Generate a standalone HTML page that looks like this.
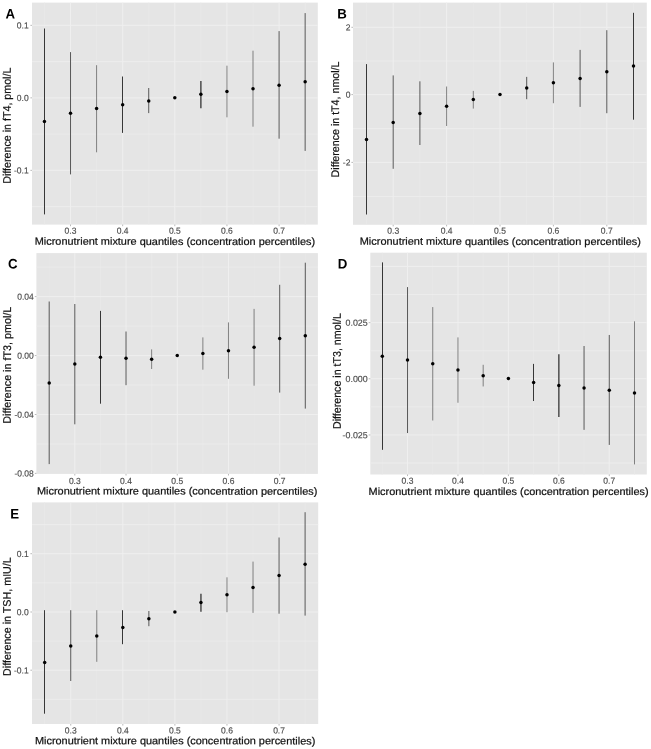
<!DOCTYPE html>
<html lang="en"><head><meta charset="utf-8"><title>Figure: micronutrient mixture quantiles and thyroid hormones</title>
<style>html,body{margin:0;padding:0;background:#fff}svg{display:block}text{font-family:"Liberation Sans", Arial, Helvetica, sans-serif;text-rendering:geometricPrecision}</style>
</head><body>
<svg width="651" height="749" viewBox="0 0 651 749">
<rect x="0" y="0" width="651" height="749" fill="#ffffff"/>
<g>
<rect x="32" y="2.6" width="285.8" height="222" fill="#E5E5E5"/>
<line x1="44.45" y1="2.6" x2="44.45" y2="224.6" stroke="#EAEAEA" stroke-width="0.7"/>
<line x1="96.59" y1="2.6" x2="96.59" y2="224.6" stroke="#EAEAEA" stroke-width="0.7"/>
<line x1="148.73" y1="2.6" x2="148.73" y2="224.6" stroke="#EAEAEA" stroke-width="0.7"/>
<line x1="200.87" y1="2.6" x2="200.87" y2="224.6" stroke="#EAEAEA" stroke-width="0.7"/>
<line x1="253.01" y1="2.6" x2="253.01" y2="224.6" stroke="#EAEAEA" stroke-width="0.7"/>
<line x1="305.15" y1="2.6" x2="305.15" y2="224.6" stroke="#EAEAEA" stroke-width="0.7"/>
<line x1="32" y1="61.6" x2="317.8" y2="61.6" stroke="#EDEDED" stroke-width="0.8"/>
<line x1="32" y1="134.1" x2="317.8" y2="134.1" stroke="#EDEDED" stroke-width="0.8"/>
<line x1="32" y1="206.6" x2="317.8" y2="206.6" stroke="#EDEDED" stroke-width="0.8"/>
<line x1="70.52" y1="2.6" x2="70.52" y2="224.6" stroke="#EFEFEF" stroke-width="1"/>
<line x1="122.66" y1="2.6" x2="122.66" y2="224.6" stroke="#EFEFEF" stroke-width="1"/>
<line x1="174.8" y1="2.6" x2="174.8" y2="224.6" stroke="#EFEFEF" stroke-width="1"/>
<line x1="226.94" y1="2.6" x2="226.94" y2="224.6" stroke="#EFEFEF" stroke-width="1"/>
<line x1="279.08" y1="2.6" x2="279.08" y2="224.6" stroke="#EFEFEF" stroke-width="1"/>
<line x1="32" y1="25.35" x2="317.8" y2="25.35" stroke="#EFEFEF" stroke-width="1"/>
<line x1="32" y1="97.85" x2="317.8" y2="97.85" stroke="#EFEFEF" stroke-width="1"/>
<line x1="32" y1="170.35" x2="317.8" y2="170.35" stroke="#EFEFEF" stroke-width="1"/>
<line x1="30.4" y1="25.35" x2="32" y2="25.35" stroke="#8a8a8a" stroke-width="0.6"/>
<text transform="translate(28.7 28.55) scale(0.96 1) rotate(0.05)" font-size="8.9" fill="#4D4D4D" stroke="#4D4D4D" stroke-width="0.15" text-anchor="end">0.1</text>
<line x1="30.4" y1="97.85" x2="32" y2="97.85" stroke="#8a8a8a" stroke-width="0.6"/>
<text transform="translate(28.7 101.05) scale(0.96 1) rotate(0.05)" font-size="8.9" fill="#4D4D4D" stroke="#4D4D4D" stroke-width="0.15" text-anchor="end">0.0</text>
<line x1="30.4" y1="170.35" x2="32" y2="170.35" stroke="#8a8a8a" stroke-width="0.6"/>
<text transform="translate(28.7 173.55) scale(0.96 1) rotate(0.05)" font-size="8.9" fill="#4D4D4D" stroke="#4D4D4D" stroke-width="0.15" text-anchor="end">-0.1</text>
<line x1="70.52" y1="224.6" x2="70.52" y2="226.2" stroke="#8a8a8a" stroke-width="0.6"/>
<text transform="translate(70.52 233.7) scale(0.96 1) rotate(0.05)" font-size="8.9" fill="#4D4D4D" stroke="#4D4D4D" stroke-width="0.15" text-anchor="middle">0.3</text>
<line x1="122.66" y1="224.6" x2="122.66" y2="226.2" stroke="#8a8a8a" stroke-width="0.6"/>
<text transform="translate(122.66 233.7) scale(0.96 1) rotate(0.05)" font-size="8.9" fill="#4D4D4D" stroke="#4D4D4D" stroke-width="0.15" text-anchor="middle">0.4</text>
<line x1="174.8" y1="224.6" x2="174.8" y2="226.2" stroke="#8a8a8a" stroke-width="0.6"/>
<text transform="translate(174.8 233.7) scale(0.96 1) rotate(0.05)" font-size="8.9" fill="#4D4D4D" stroke="#4D4D4D" stroke-width="0.15" text-anchor="middle">0.5</text>
<line x1="226.94" y1="224.6" x2="226.94" y2="226.2" stroke="#8a8a8a" stroke-width="0.6"/>
<text transform="translate(226.94 233.7) scale(0.96 1) rotate(0.05)" font-size="8.9" fill="#4D4D4D" stroke="#4D4D4D" stroke-width="0.15" text-anchor="middle">0.6</text>
<line x1="279.08" y1="224.6" x2="279.08" y2="226.2" stroke="#8a8a8a" stroke-width="0.6"/>
<text transform="translate(279.08 233.7) scale(0.96 1) rotate(0.05)" font-size="8.9" fill="#4D4D4D" stroke="#4D4D4D" stroke-width="0.15" text-anchor="middle">0.7</text>
<line x1="44.5" y1="28.5" x2="44.5" y2="214.4" stroke="#1E1E1E" stroke-width="0.88"/>
<line x1="70.52" y1="52.1" x2="70.52" y2="174.4" stroke="#1E1E1E" stroke-width="0.72"/>
<line x1="96.59" y1="65.2" x2="96.59" y2="152.3" stroke="#1E1E1E" stroke-width="0.52"/>
<line x1="122.5" y1="76.5" x2="122.5" y2="132.9" stroke="#1E1E1E" stroke-width="0.88"/>
<line x1="148.73" y1="88" x2="148.73" y2="113.1" stroke="#1E1E1E" stroke-width="0.72"/>
<line x1="200.87" y1="80.9" x2="200.87" y2="108.3" stroke="#4c4c4c" stroke-width="1.5"/>
<line x1="226.94" y1="65.7" x2="226.94" y2="117.3" stroke="#1E1E1E" stroke-width="0.52"/>
<line x1="253.01" y1="50.7" x2="253.01" y2="126.7" stroke="#1E1E1E" stroke-width="0.52"/>
<line x1="279.08" y1="31.1" x2="279.08" y2="138.7" stroke="#1E1E1E" stroke-width="0.72"/>
<line x1="305.15" y1="13.1" x2="305.15" y2="150.9" stroke="#1E1E1E" stroke-width="0.72"/>
<circle cx="44.45" cy="121.4" r="1.75" fill="#000"/>
<circle cx="70.52" cy="113.2" r="1.75" fill="#000"/>
<circle cx="96.59" cy="108.6" r="1.75" fill="#000"/>
<circle cx="122.66" cy="104.8" r="1.75" fill="#000"/>
<circle cx="148.73" cy="100.9" r="1.75" fill="#000"/>
<circle cx="174.8" cy="97.8" r="1.75" fill="#000"/>
<circle cx="200.87" cy="94.2" r="1.75" fill="#000"/>
<circle cx="226.94" cy="91.5" r="1.75" fill="#000"/>
<circle cx="253.01" cy="88.7" r="1.75" fill="#000"/>
<circle cx="279.08" cy="85.3" r="1.75" fill="#000"/>
<circle cx="305.15" cy="81.8" r="1.75" fill="#000"/>
<text transform="translate(174.9 244.9) rotate(0.04)" font-size="10.45" fill="#111" stroke="#111" stroke-width="0.22" text-anchor="middle" textLength="280.4" lengthAdjust="spacingAndGlyphs">Micronutrient mixture quantiles (concentration percentiles)</text>
<text transform="translate(10.8 125.7) rotate(-89.96)" font-size="11" fill="#111" stroke="#111" stroke-width="0.22" text-anchor="middle" textLength="116.2" lengthAdjust="spacingAndGlyphs">Difference in fT4, pmol/L</text>
<text transform="translate(5.6 18.5) scale(0.96 1) rotate(0.05)" font-size="13.8" font-weight="700" fill="#000">A</text>
</g>
<g>
<rect x="353" y="2.6" width="293.8" height="222.2" fill="#E5E5E5"/>
<line x1="366.5" y1="2.6" x2="366.5" y2="224.8" stroke="#EAEAEA" stroke-width="0.7"/>
<line x1="419.9" y1="2.6" x2="419.9" y2="224.8" stroke="#EAEAEA" stroke-width="0.7"/>
<line x1="473.3" y1="2.6" x2="473.3" y2="224.8" stroke="#EAEAEA" stroke-width="0.7"/>
<line x1="526.7" y1="2.6" x2="526.7" y2="224.8" stroke="#EAEAEA" stroke-width="0.7"/>
<line x1="580.1" y1="2.6" x2="580.1" y2="224.8" stroke="#EAEAEA" stroke-width="0.7"/>
<line x1="633.5" y1="2.6" x2="633.5" y2="224.8" stroke="#EAEAEA" stroke-width="0.7"/>
<line x1="353" y1="61" x2="646.8" y2="61" stroke="#EDEDED" stroke-width="0.8"/>
<line x1="353" y1="128.6" x2="646.8" y2="128.6" stroke="#EDEDED" stroke-width="0.8"/>
<line x1="353" y1="196.5" x2="646.8" y2="196.5" stroke="#EDEDED" stroke-width="0.8"/>
<line x1="393.2" y1="2.6" x2="393.2" y2="224.8" stroke="#EFEFEF" stroke-width="1"/>
<line x1="446.6" y1="2.6" x2="446.6" y2="224.8" stroke="#EFEFEF" stroke-width="1"/>
<line x1="500" y1="2.6" x2="500" y2="224.8" stroke="#EFEFEF" stroke-width="1"/>
<line x1="553.4" y1="2.6" x2="553.4" y2="224.8" stroke="#EFEFEF" stroke-width="1"/>
<line x1="606.8" y1="2.6" x2="606.8" y2="224.8" stroke="#EFEFEF" stroke-width="1"/>
<line x1="353" y1="27.3" x2="646.8" y2="27.3" stroke="#EFEFEF" stroke-width="1"/>
<line x1="353" y1="94.6" x2="646.8" y2="94.6" stroke="#EFEFEF" stroke-width="1"/>
<line x1="353" y1="162.4" x2="646.8" y2="162.4" stroke="#EFEFEF" stroke-width="1"/>
<line x1="351.4" y1="27.3" x2="353" y2="27.3" stroke="#8a8a8a" stroke-width="0.6"/>
<text transform="translate(350.4 30.5) scale(0.96 1) rotate(0.05)" font-size="8.9" fill="#4D4D4D" stroke="#4D4D4D" stroke-width="0.15" text-anchor="end">2</text>
<line x1="351.4" y1="94.6" x2="353" y2="94.6" stroke="#8a8a8a" stroke-width="0.6"/>
<text transform="translate(350.4 97.8) scale(0.96 1) rotate(0.05)" font-size="8.9" fill="#4D4D4D" stroke="#4D4D4D" stroke-width="0.15" text-anchor="end">0</text>
<line x1="351.4" y1="162.4" x2="353" y2="162.4" stroke="#8a8a8a" stroke-width="0.6"/>
<text transform="translate(350.4 165.6) scale(0.96 1) rotate(0.05)" font-size="8.9" fill="#4D4D4D" stroke="#4D4D4D" stroke-width="0.15" text-anchor="end">-2</text>
<line x1="393.2" y1="224.8" x2="393.2" y2="226.4" stroke="#8a8a8a" stroke-width="0.6"/>
<text transform="translate(393.2 233.7) scale(0.96 1) rotate(0.05)" font-size="8.9" fill="#4D4D4D" stroke="#4D4D4D" stroke-width="0.15" text-anchor="middle">0.3</text>
<line x1="446.6" y1="224.8" x2="446.6" y2="226.4" stroke="#8a8a8a" stroke-width="0.6"/>
<text transform="translate(446.6 233.7) scale(0.96 1) rotate(0.05)" font-size="8.9" fill="#4D4D4D" stroke="#4D4D4D" stroke-width="0.15" text-anchor="middle">0.4</text>
<line x1="500" y1="224.8" x2="500" y2="226.4" stroke="#8a8a8a" stroke-width="0.6"/>
<text transform="translate(500 233.7) scale(0.96 1) rotate(0.05)" font-size="8.9" fill="#4D4D4D" stroke="#4D4D4D" stroke-width="0.15" text-anchor="middle">0.5</text>
<line x1="553.4" y1="224.8" x2="553.4" y2="226.4" stroke="#8a8a8a" stroke-width="0.6"/>
<text transform="translate(553.4 233.7) scale(0.96 1) rotate(0.05)" font-size="8.9" fill="#4D4D4D" stroke="#4D4D4D" stroke-width="0.15" text-anchor="middle">0.6</text>
<line x1="606.8" y1="224.8" x2="606.8" y2="226.4" stroke="#8a8a8a" stroke-width="0.6"/>
<text transform="translate(606.8 233.7) scale(0.96 1) rotate(0.05)" font-size="8.9" fill="#4D4D4D" stroke="#4D4D4D" stroke-width="0.15" text-anchor="middle">0.7</text>
<line x1="366.5" y1="64.1" x2="366.5" y2="214.5" stroke="#1E1E1E" stroke-width="0.88"/>
<line x1="393.2" y1="75.4" x2="393.2" y2="168.8" stroke="#1E1E1E" stroke-width="0.72"/>
<line x1="419.9" y1="81.3" x2="419.9" y2="145" stroke="#1E1E1E" stroke-width="0.72"/>
<line x1="446.6" y1="86.5" x2="446.6" y2="126" stroke="#1E1E1E" stroke-width="0.52"/>
<line x1="473.3" y1="90.9" x2="473.3" y2="108.6" stroke="#1E1E1E" stroke-width="0.52"/>
<line x1="526.7" y1="76.9" x2="526.7" y2="99.2" stroke="#1E1E1E" stroke-width="0.72"/>
<line x1="553.4" y1="62.4" x2="553.4" y2="103.2" stroke="#1E1E1E" stroke-width="0.52"/>
<line x1="580.1" y1="49.9" x2="580.1" y2="106.9" stroke="#1E1E1E" stroke-width="0.72"/>
<line x1="606.8" y1="30.2" x2="606.8" y2="113.2" stroke="#1E1E1E" stroke-width="0.72"/>
<line x1="633.5" y1="12.8" x2="633.5" y2="119.7" stroke="#1E1E1E" stroke-width="0.88"/>
<circle cx="366.5" cy="139.4" r="1.75" fill="#000"/>
<circle cx="393.2" cy="122.5" r="1.75" fill="#000"/>
<circle cx="419.9" cy="113.4" r="1.75" fill="#000"/>
<circle cx="446.6" cy="106.3" r="1.75" fill="#000"/>
<circle cx="473.3" cy="99.6" r="1.75" fill="#000"/>
<circle cx="500" cy="94.6" r="1.75" fill="#000"/>
<circle cx="526.7" cy="88" r="1.75" fill="#000"/>
<circle cx="553.4" cy="82.8" r="1.75" fill="#000"/>
<circle cx="580.1" cy="78.4" r="1.75" fill="#000"/>
<circle cx="606.8" cy="71.8" r="1.75" fill="#000"/>
<circle cx="633.5" cy="66.1" r="1.75" fill="#000"/>
<text transform="translate(500.3 244.9) rotate(0.04)" font-size="10.45" fill="#111" stroke="#111" stroke-width="0.22" text-anchor="middle" textLength="281.2" lengthAdjust="spacingAndGlyphs">Micronutrient mixture quantiles (concentration percentiles)</text>
<text transform="translate(339 119.5) rotate(-89.96)" font-size="11" fill="#111" stroke="#111" stroke-width="0.22" text-anchor="middle" textLength="115.9" lengthAdjust="spacingAndGlyphs">Difference in tT4, nmol/L</text>
<text transform="translate(337.3 18.5) scale(0.96 1) rotate(0.05)" font-size="13.8" font-weight="700" fill="#000">B</text>
</g>
<g>
<rect x="36.4" y="253.1" width="281.5" height="220.8" fill="#E5E5E5"/>
<line x1="49.2" y1="253.1" x2="49.2" y2="473.9" stroke="#EAEAEA" stroke-width="0.7"/>
<line x1="100.42" y1="253.1" x2="100.42" y2="473.9" stroke="#EAEAEA" stroke-width="0.7"/>
<line x1="151.64" y1="253.1" x2="151.64" y2="473.9" stroke="#EAEAEA" stroke-width="0.7"/>
<line x1="202.86" y1="253.1" x2="202.86" y2="473.9" stroke="#EAEAEA" stroke-width="0.7"/>
<line x1="254.08" y1="253.1" x2="254.08" y2="473.9" stroke="#EAEAEA" stroke-width="0.7"/>
<line x1="305.3" y1="253.1" x2="305.3" y2="473.9" stroke="#EAEAEA" stroke-width="0.7"/>
<line x1="36.4" y1="267.1" x2="317.9" y2="267.1" stroke="#EDEDED" stroke-width="0.8"/>
<line x1="36.4" y1="326.1" x2="317.9" y2="326.1" stroke="#EDEDED" stroke-width="0.8"/>
<line x1="36.4" y1="385" x2="317.9" y2="385" stroke="#EDEDED" stroke-width="0.8"/>
<line x1="36.4" y1="444" x2="317.9" y2="444" stroke="#EDEDED" stroke-width="0.8"/>
<line x1="74.81" y1="253.1" x2="74.81" y2="473.9" stroke="#EFEFEF" stroke-width="1"/>
<line x1="126.03" y1="253.1" x2="126.03" y2="473.9" stroke="#EFEFEF" stroke-width="1"/>
<line x1="177.25" y1="253.1" x2="177.25" y2="473.9" stroke="#EFEFEF" stroke-width="1"/>
<line x1="228.47" y1="253.1" x2="228.47" y2="473.9" stroke="#EFEFEF" stroke-width="1"/>
<line x1="279.69" y1="253.1" x2="279.69" y2="473.9" stroke="#EFEFEF" stroke-width="1"/>
<line x1="36.4" y1="296.6" x2="317.9" y2="296.6" stroke="#EFEFEF" stroke-width="1"/>
<line x1="36.4" y1="355.55" x2="317.9" y2="355.55" stroke="#EFEFEF" stroke-width="1"/>
<line x1="36.4" y1="414.5" x2="317.9" y2="414.5" stroke="#EFEFEF" stroke-width="1"/>
<line x1="34.8" y1="296.6" x2="36.4" y2="296.6" stroke="#8a8a8a" stroke-width="0.6"/>
<text transform="translate(33.8 299.8) scale(0.96 1) rotate(0.05)" font-size="8.9" fill="#4D4D4D" stroke="#4D4D4D" stroke-width="0.15" text-anchor="end">0.04</text>
<line x1="34.8" y1="355.55" x2="36.4" y2="355.55" stroke="#8a8a8a" stroke-width="0.6"/>
<text transform="translate(33.8 358.75) scale(0.96 1) rotate(0.05)" font-size="8.9" fill="#4D4D4D" stroke="#4D4D4D" stroke-width="0.15" text-anchor="end">0.00</text>
<line x1="34.8" y1="414.5" x2="36.4" y2="414.5" stroke="#8a8a8a" stroke-width="0.6"/>
<text transform="translate(33.8 417.7) scale(0.96 1) rotate(0.05)" font-size="8.9" fill="#4D4D4D" stroke="#4D4D4D" stroke-width="0.15" text-anchor="end">-0.04</text>
<line x1="34.8" y1="473.4" x2="36.4" y2="473.4" stroke="#8a8a8a" stroke-width="0.6"/>
<text transform="translate(33.8 476.6) scale(0.96 1) rotate(0.05)" font-size="8.9" fill="#4D4D4D" stroke="#4D4D4D" stroke-width="0.15" text-anchor="end">-0.08</text>
<line x1="74.81" y1="473.9" x2="74.81" y2="475.5" stroke="#8a8a8a" stroke-width="0.6"/>
<text transform="translate(74.81 483.9) scale(0.96 1) rotate(0.05)" font-size="8.9" fill="#4D4D4D" stroke="#4D4D4D" stroke-width="0.15" text-anchor="middle">0.3</text>
<line x1="126.03" y1="473.9" x2="126.03" y2="475.5" stroke="#8a8a8a" stroke-width="0.6"/>
<text transform="translate(126.03 483.9) scale(0.96 1) rotate(0.05)" font-size="8.9" fill="#4D4D4D" stroke="#4D4D4D" stroke-width="0.15" text-anchor="middle">0.4</text>
<line x1="177.25" y1="473.9" x2="177.25" y2="475.5" stroke="#8a8a8a" stroke-width="0.6"/>
<text transform="translate(177.25 483.9) scale(0.96 1) rotate(0.05)" font-size="8.9" fill="#4D4D4D" stroke="#4D4D4D" stroke-width="0.15" text-anchor="middle">0.5</text>
<line x1="228.47" y1="473.9" x2="228.47" y2="475.5" stroke="#8a8a8a" stroke-width="0.6"/>
<text transform="translate(228.47 483.9) scale(0.96 1) rotate(0.05)" font-size="8.9" fill="#4D4D4D" stroke="#4D4D4D" stroke-width="0.15" text-anchor="middle">0.6</text>
<line x1="279.69" y1="473.9" x2="279.69" y2="475.5" stroke="#8a8a8a" stroke-width="0.6"/>
<text transform="translate(279.69 483.9) scale(0.96 1) rotate(0.05)" font-size="8.9" fill="#4D4D4D" stroke="#4D4D4D" stroke-width="0.15" text-anchor="middle">0.7</text>
<line x1="49.2" y1="301.5" x2="49.2" y2="464.1" stroke="#1E1E1E" stroke-width="0.72"/>
<line x1="74.81" y1="304" x2="74.81" y2="424.3" stroke="#1E1E1E" stroke-width="0.72"/>
<line x1="100.5" y1="310.9" x2="100.5" y2="403.7" stroke="#1E1E1E" stroke-width="0.88"/>
<line x1="126.03" y1="331.5" x2="126.03" y2="385.2" stroke="#1E1E1E" stroke-width="0.72"/>
<line x1="151.64" y1="349.4" x2="151.64" y2="369" stroke="#1E1E1E" stroke-width="0.52"/>
<line x1="202.86" y1="337.4" x2="202.86" y2="369.7" stroke="#1E1E1E" stroke-width="0.52"/>
<line x1="228.47" y1="322.4" x2="228.47" y2="378.8" stroke="#1E1E1E" stroke-width="0.52"/>
<line x1="254.08" y1="308.9" x2="254.08" y2="385.7" stroke="#1E1E1E" stroke-width="0.52"/>
<line x1="279.69" y1="284.8" x2="279.69" y2="392.6" stroke="#1E1E1E" stroke-width="0.72"/>
<line x1="305.3" y1="262.7" x2="305.3" y2="408.6" stroke="#1E1E1E" stroke-width="0.72"/>
<circle cx="49.2" cy="383" r="1.75" fill="#000"/>
<circle cx="74.81" cy="364" r="1.75" fill="#000"/>
<circle cx="100.42" cy="357.15" r="1.75" fill="#000"/>
<circle cx="126.03" cy="358.25" r="1.75" fill="#000"/>
<circle cx="151.64" cy="359.25" r="1.75" fill="#000"/>
<circle cx="177.25" cy="355.6" r="1.75" fill="#000"/>
<circle cx="202.86" cy="353.6" r="1.75" fill="#000"/>
<circle cx="228.47" cy="350.7" r="1.75" fill="#000"/>
<circle cx="254.08" cy="347.2" r="1.75" fill="#000"/>
<circle cx="279.69" cy="338.6" r="1.75" fill="#000"/>
<circle cx="305.3" cy="335.7" r="1.75" fill="#000"/>
<text transform="translate(177.15 494.6) rotate(0.04)" font-size="10.45" fill="#111" stroke="#111" stroke-width="0.22" text-anchor="middle" textLength="280.4" lengthAdjust="spacingAndGlyphs">Micronutrient mixture quantiles (concentration percentiles)</text>
<text transform="translate(10.9 365.2) rotate(-89.96)" font-size="11" fill="#111" stroke="#111" stroke-width="0.22" text-anchor="middle" textLength="117" lengthAdjust="spacingAndGlyphs">Difference in fT3, pmol/L</text>
<text transform="translate(7.9 268.6) scale(0.96 1) rotate(0.05)" font-size="13.8" font-weight="600" fill="#000">C</text>
</g>
<g>
<rect x="370.3" y="252.7" width="276.5" height="221.8" fill="#E5E5E5"/>
<line x1="382.3" y1="252.7" x2="382.3" y2="474.5" stroke="#EAEAEA" stroke-width="0.7"/>
<line x1="432.74" y1="252.7" x2="432.74" y2="474.5" stroke="#EAEAEA" stroke-width="0.7"/>
<line x1="483.18" y1="252.7" x2="483.18" y2="474.5" stroke="#EAEAEA" stroke-width="0.7"/>
<line x1="533.62" y1="252.7" x2="533.62" y2="474.5" stroke="#EAEAEA" stroke-width="0.7"/>
<line x1="584.06" y1="252.7" x2="584.06" y2="474.5" stroke="#EAEAEA" stroke-width="0.7"/>
<line x1="634.5" y1="252.7" x2="634.5" y2="474.5" stroke="#EAEAEA" stroke-width="0.7"/>
<line x1="370.3" y1="294.52" x2="646.8" y2="294.52" stroke="#EDEDED" stroke-width="0.8"/>
<line x1="370.3" y1="350.74" x2="646.8" y2="350.74" stroke="#EDEDED" stroke-width="0.8"/>
<line x1="370.3" y1="406.86" x2="646.8" y2="406.86" stroke="#EDEDED" stroke-width="0.8"/>
<line x1="370.3" y1="462.98" x2="646.8" y2="462.98" stroke="#EDEDED" stroke-width="0.8"/>
<line x1="370.3" y1="266.4" x2="646.8" y2="266.4" stroke="#EFEFEF" stroke-width="1"/>
<line x1="407.52" y1="252.7" x2="407.52" y2="474.5" stroke="#EFEFEF" stroke-width="1"/>
<line x1="457.96" y1="252.7" x2="457.96" y2="474.5" stroke="#EFEFEF" stroke-width="1"/>
<line x1="508.4" y1="252.7" x2="508.4" y2="474.5" stroke="#EFEFEF" stroke-width="1"/>
<line x1="558.84" y1="252.7" x2="558.84" y2="474.5" stroke="#EFEFEF" stroke-width="1"/>
<line x1="609.28" y1="252.7" x2="609.28" y2="474.5" stroke="#EFEFEF" stroke-width="1"/>
<line x1="370.3" y1="322.63" x2="646.8" y2="322.63" stroke="#EFEFEF" stroke-width="1"/>
<line x1="370.3" y1="378.75" x2="646.8" y2="378.75" stroke="#EFEFEF" stroke-width="1"/>
<line x1="370.3" y1="434.97" x2="646.8" y2="434.97" stroke="#EFEFEF" stroke-width="1"/>
<line x1="368.7" y1="322.63" x2="370.3" y2="322.63" stroke="#8a8a8a" stroke-width="0.6"/>
<text transform="translate(367.7 325.83) scale(1 1) rotate(0.05)" font-size="8.9" fill="#4D4D4D" stroke="#4D4D4D" stroke-width="0.15" text-anchor="end">0.025</text>
<line x1="368.7" y1="378.75" x2="370.3" y2="378.75" stroke="#8a8a8a" stroke-width="0.6"/>
<text transform="translate(367.7 381.95) scale(1 1) rotate(0.05)" font-size="8.9" fill="#4D4D4D" stroke="#4D4D4D" stroke-width="0.15" text-anchor="end">0.000</text>
<line x1="368.7" y1="434.97" x2="370.3" y2="434.97" stroke="#8a8a8a" stroke-width="0.6"/>
<text transform="translate(367.7 438.17) scale(1 1) rotate(0.05)" font-size="8.9" fill="#4D4D4D" stroke="#4D4D4D" stroke-width="0.15" text-anchor="end">-0.025</text>
<line x1="407.52" y1="474.5" x2="407.52" y2="476.1" stroke="#8a8a8a" stroke-width="0.6"/>
<text transform="translate(407.52 483.7) scale(0.96 1) rotate(0.05)" font-size="8.9" fill="#4D4D4D" stroke="#4D4D4D" stroke-width="0.15" text-anchor="middle">0.3</text>
<line x1="457.96" y1="474.5" x2="457.96" y2="476.1" stroke="#8a8a8a" stroke-width="0.6"/>
<text transform="translate(457.96 483.7) scale(0.96 1) rotate(0.05)" font-size="8.9" fill="#4D4D4D" stroke="#4D4D4D" stroke-width="0.15" text-anchor="middle">0.4</text>
<line x1="508.4" y1="474.5" x2="508.4" y2="476.1" stroke="#8a8a8a" stroke-width="0.6"/>
<text transform="translate(508.4 483.7) scale(0.96 1) rotate(0.05)" font-size="8.9" fill="#4D4D4D" stroke="#4D4D4D" stroke-width="0.15" text-anchor="middle">0.5</text>
<line x1="558.84" y1="474.5" x2="558.84" y2="476.1" stroke="#8a8a8a" stroke-width="0.6"/>
<text transform="translate(558.84 483.7) scale(0.96 1) rotate(0.05)" font-size="8.9" fill="#4D4D4D" stroke="#4D4D4D" stroke-width="0.15" text-anchor="middle">0.6</text>
<line x1="609.28" y1="474.5" x2="609.28" y2="476.1" stroke="#8a8a8a" stroke-width="0.6"/>
<text transform="translate(609.28 483.7) scale(0.96 1) rotate(0.05)" font-size="8.9" fill="#4D4D4D" stroke="#4D4D4D" stroke-width="0.15" text-anchor="middle">0.7</text>
<line x1="382.5" y1="262.39" x2="382.5" y2="449.83" stroke="#1E1E1E" stroke-width="0.88"/>
<line x1="407.52" y1="287.09" x2="407.52" y2="433.06" stroke="#1E1E1E" stroke-width="0.72"/>
<line x1="432.74" y1="307.07" x2="432.74" y2="420.51" stroke="#1E1E1E" stroke-width="0.52"/>
<line x1="457.96" y1="337.39" x2="457.96" y2="402.74" stroke="#1E1E1E" stroke-width="0.52"/>
<line x1="483.18" y1="364.79" x2="483.18" y2="386.48" stroke="#1E1E1E" stroke-width="0.52"/>
<line x1="533.5" y1="363.89" x2="533.5" y2="401.03" stroke="#1E1E1E" stroke-width="0.88"/>
<line x1="558.84" y1="354.15" x2="558.84" y2="417.1" stroke="#4c4c4c" stroke-width="1.5"/>
<line x1="584.06" y1="346.02" x2="584.06" y2="429.85" stroke="#1E1E1E" stroke-width="0.72"/>
<line x1="609.28" y1="334.98" x2="609.28" y2="444.91" stroke="#1E1E1E" stroke-width="0.72"/>
<line x1="634.5" y1="321.32" x2="634.5" y2="464.4" stroke="#1E1E1E" stroke-width="0.52"/>
<circle cx="382.3" cy="356.16" r="1.75" fill="#000"/>
<circle cx="407.52" cy="359.97" r="1.75" fill="#000"/>
<circle cx="432.74" cy="363.69" r="1.75" fill="#000"/>
<circle cx="457.96" cy="369.91" r="1.75" fill="#000"/>
<circle cx="483.18" cy="375.84" r="1.75" fill="#000"/>
<circle cx="508.4" cy="378.55" r="1.75" fill="#000"/>
<circle cx="533.62" cy="382.56" r="1.75" fill="#000"/>
<circle cx="558.84" cy="385.47" r="1.75" fill="#000"/>
<circle cx="584.06" cy="387.98" r="1.75" fill="#000"/>
<circle cx="609.28" cy="390.19" r="1.75" fill="#000"/>
<circle cx="634.5" cy="393.1" r="1.75" fill="#000"/>
<text transform="translate(508.55 495) rotate(0.04)" font-size="10.45" fill="#111" stroke="#111" stroke-width="0.22" text-anchor="middle" textLength="280" lengthAdjust="spacingAndGlyphs">Micronutrient mixture quantiles (concentration percentiles)</text>
<text transform="translate(340.7 371.1) rotate(-89.96)" font-size="11" fill="#111" stroke="#111" stroke-width="0.22" text-anchor="middle" textLength="115.9" lengthAdjust="spacingAndGlyphs">Difference in tT3, nmol/L</text>
<text transform="translate(337.7 268.6) scale(0.96 1) rotate(0.05)" font-size="13.8" font-weight="700" fill="#000">D</text>
</g>
<g>
<rect x="32" y="502.4" width="286.2" height="221.6" fill="#E5E5E5"/>
<line x1="44.7" y1="502.4" x2="44.7" y2="724" stroke="#EAEAEA" stroke-width="0.7"/>
<line x1="96.78" y1="502.4" x2="96.78" y2="724" stroke="#EAEAEA" stroke-width="0.7"/>
<line x1="148.86" y1="502.4" x2="148.86" y2="724" stroke="#EAEAEA" stroke-width="0.7"/>
<line x1="200.94" y1="502.4" x2="200.94" y2="724" stroke="#EAEAEA" stroke-width="0.7"/>
<line x1="253.02" y1="502.4" x2="253.02" y2="724" stroke="#EAEAEA" stroke-width="0.7"/>
<line x1="305.1" y1="502.4" x2="305.1" y2="724" stroke="#EAEAEA" stroke-width="0.7"/>
<line x1="32" y1="524.6" x2="318.2" y2="524.6" stroke="#EDEDED" stroke-width="0.8"/>
<line x1="32" y1="582.9" x2="318.2" y2="582.9" stroke="#EDEDED" stroke-width="0.8"/>
<line x1="32" y1="641.1" x2="318.2" y2="641.1" stroke="#EDEDED" stroke-width="0.8"/>
<line x1="32" y1="699.3" x2="318.2" y2="699.3" stroke="#EDEDED" stroke-width="0.8"/>
<line x1="70.74" y1="502.4" x2="70.74" y2="724" stroke="#EFEFEF" stroke-width="1"/>
<line x1="122.82" y1="502.4" x2="122.82" y2="724" stroke="#EFEFEF" stroke-width="1"/>
<line x1="174.9" y1="502.4" x2="174.9" y2="724" stroke="#EFEFEF" stroke-width="1"/>
<line x1="226.98" y1="502.4" x2="226.98" y2="724" stroke="#EFEFEF" stroke-width="1"/>
<line x1="279.06" y1="502.4" x2="279.06" y2="724" stroke="#EFEFEF" stroke-width="1"/>
<line x1="32" y1="553.7" x2="318.2" y2="553.7" stroke="#EFEFEF" stroke-width="1"/>
<line x1="32" y1="612" x2="318.2" y2="612" stroke="#EFEFEF" stroke-width="1"/>
<line x1="32" y1="670.2" x2="318.2" y2="670.2" stroke="#EFEFEF" stroke-width="1"/>
<line x1="30.4" y1="553.7" x2="32" y2="553.7" stroke="#8a8a8a" stroke-width="0.6"/>
<text transform="translate(28.7 556.9) scale(0.96 1) rotate(0.05)" font-size="8.9" fill="#4D4D4D" stroke="#4D4D4D" stroke-width="0.15" text-anchor="end">0.1</text>
<line x1="30.4" y1="612" x2="32" y2="612" stroke="#8a8a8a" stroke-width="0.6"/>
<text transform="translate(28.7 615.2) scale(0.96 1) rotate(0.05)" font-size="8.9" fill="#4D4D4D" stroke="#4D4D4D" stroke-width="0.15" text-anchor="end">0.0</text>
<line x1="30.4" y1="670.2" x2="32" y2="670.2" stroke="#8a8a8a" stroke-width="0.6"/>
<text transform="translate(28.7 673.4) scale(0.96 1) rotate(0.05)" font-size="8.9" fill="#4D4D4D" stroke="#4D4D4D" stroke-width="0.15" text-anchor="end">-0.1</text>
<line x1="70.74" y1="724" x2="70.74" y2="725.6" stroke="#8a8a8a" stroke-width="0.6"/>
<text transform="translate(70.74 733.6) scale(0.96 1) rotate(0.05)" font-size="8.9" fill="#4D4D4D" stroke="#4D4D4D" stroke-width="0.15" text-anchor="middle">0.3</text>
<line x1="122.82" y1="724" x2="122.82" y2="725.6" stroke="#8a8a8a" stroke-width="0.6"/>
<text transform="translate(122.82 733.6) scale(0.96 1) rotate(0.05)" font-size="8.9" fill="#4D4D4D" stroke="#4D4D4D" stroke-width="0.15" text-anchor="middle">0.4</text>
<line x1="174.9" y1="724" x2="174.9" y2="725.6" stroke="#8a8a8a" stroke-width="0.6"/>
<text transform="translate(174.9 733.6) scale(0.96 1) rotate(0.05)" font-size="8.9" fill="#4D4D4D" stroke="#4D4D4D" stroke-width="0.15" text-anchor="middle">0.5</text>
<line x1="226.98" y1="724" x2="226.98" y2="725.6" stroke="#8a8a8a" stroke-width="0.6"/>
<text transform="translate(226.98 733.6) scale(0.96 1) rotate(0.05)" font-size="8.9" fill="#4D4D4D" stroke="#4D4D4D" stroke-width="0.15" text-anchor="middle">0.6</text>
<line x1="279.06" y1="724" x2="279.06" y2="725.6" stroke="#8a8a8a" stroke-width="0.6"/>
<text transform="translate(279.06 733.6) scale(0.96 1) rotate(0.05)" font-size="8.9" fill="#4D4D4D" stroke="#4D4D4D" stroke-width="0.15" text-anchor="middle">0.7</text>
<line x1="44.5" y1="610.2" x2="44.5" y2="713.7" stroke="#1E1E1E" stroke-width="0.88"/>
<line x1="70.74" y1="610.2" x2="70.74" y2="681" stroke="#1E1E1E" stroke-width="0.72"/>
<line x1="96.78" y1="610.2" x2="96.78" y2="661.8" stroke="#1E1E1E" stroke-width="0.52"/>
<line x1="122.5" y1="610.2" x2="122.5" y2="644.2" stroke="#1E1E1E" stroke-width="0.88"/>
<line x1="148.86" y1="611" x2="148.86" y2="626.2" stroke="#1E1E1E" stroke-width="0.72"/>
<line x1="200.94" y1="593.8" x2="200.94" y2="611.7" stroke="#4c4c4c" stroke-width="1.5"/>
<line x1="226.98" y1="577.3" x2="226.98" y2="612.2" stroke="#1E1E1E" stroke-width="0.52"/>
<line x1="253.02" y1="561.6" x2="253.02" y2="612.9" stroke="#1E1E1E" stroke-width="0.52"/>
<line x1="279.06" y1="537.5" x2="279.06" y2="613.7" stroke="#1E1E1E" stroke-width="0.72"/>
<line x1="305.1" y1="512.2" x2="305.1" y2="615.6" stroke="#1E1E1E" stroke-width="0.72"/>
<circle cx="44.7" cy="662.4" r="1.75" fill="#000"/>
<circle cx="70.74" cy="645.9" r="1.75" fill="#000"/>
<circle cx="96.78" cy="636" r="1.75" fill="#000"/>
<circle cx="122.82" cy="627.4" r="1.75" fill="#000"/>
<circle cx="148.86" cy="618.8" r="1.75" fill="#000"/>
<circle cx="174.9" cy="612" r="1.75" fill="#000"/>
<circle cx="200.94" cy="602.6" r="1.75" fill="#000"/>
<circle cx="226.98" cy="594.7" r="1.75" fill="#000"/>
<circle cx="253.02" cy="587.6" r="1.75" fill="#000"/>
<circle cx="279.06" cy="575.6" r="1.75" fill="#000"/>
<circle cx="305.1" cy="564.3" r="1.75" fill="#000"/>
<text transform="translate(175.1 744.3) rotate(0.04)" font-size="10.45" fill="#111" stroke="#111" stroke-width="0.22" text-anchor="middle" textLength="280.4" lengthAdjust="spacingAndGlyphs">Micronutrient mixture quantiles (concentration percentiles)</text>
<text transform="translate(10.8 616.6) rotate(-89.96)" font-size="11" fill="#111" stroke="#111" stroke-width="0.22" text-anchor="middle" textLength="118.8" lengthAdjust="spacingAndGlyphs">Difference in TSH, mIU/L</text>
<text transform="translate(10.2 518.6) scale(0.96 1) rotate(0.05)" font-size="13.8" font-weight="700" fill="#000">E</text>
</g>
</svg>
</body></html>
